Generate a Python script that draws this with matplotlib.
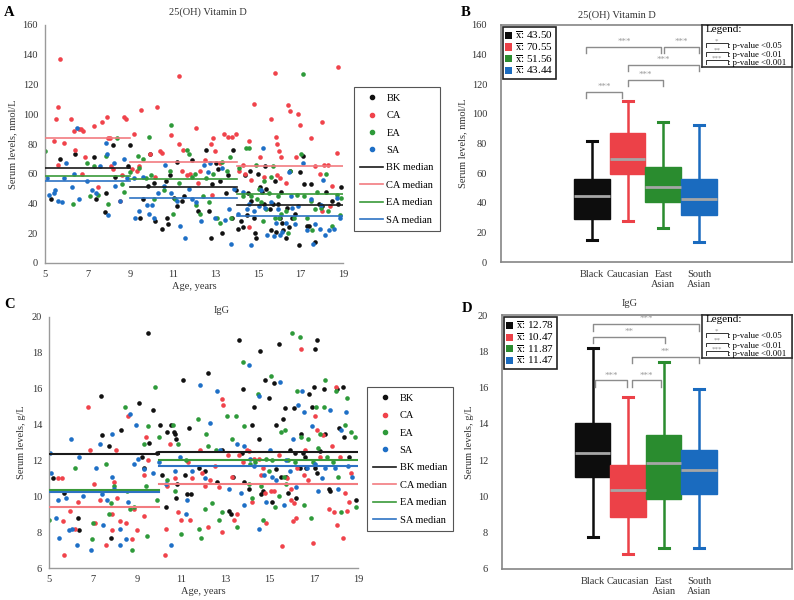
import numpy as np
import matplotlib
matplotlib.use('Agg')
import matplotlib.pyplot as plt
from matplotlib.patches import Patch
from matplotlib.lines import Line2D

plt.rcParams['font.family'] = ['Liberation Serif', 'DejaVu Serif']
plt.rcParams['mathtext.fontset'] = 'stix'

groups = ['BK', 'CA', 'EA', 'SA']
categories = ['Black', 'Caucasian', 'East\nAsian', 'South\nAsian']
dot_colors = ['#111111', '#f0434b', '#2e9a3a', '#1e6fc6']
median_colors = ['#1a1a1a', '#f27c80', '#3a9a3a', '#2d73c4']
box_colors = ['#0d0d0d', '#ec4148', '#2a8c2f', '#1a6bbf']

# ---- 25(OH) Vitamin D scatter (age, nmol/L)
vitd_bk = [(5.3,43),(5.7,70),(6.4,73),(7.3,71),(7.4,43),(7.85,47),(7.8,34),(8.2,79),(8.3,58),(8.9,65),
           (9.0,79),(9.45,30),(9.6,43),(9.85,52),(9.95,73),(10.1,54),(10.15,28),(10.5,23),(10.7,55),(10.8,26),
           (10.75,30),(10.85,59),(11.05,44),(11.2,38),(11.45,42),(11.2,68),(11.55,45),(11.9,69),(12.2,35),(12.55,76),
           (12.8,17),(12.85,53),(13.05,67),(13.15,63),(13.2,55),(13.3,20),(13.5,47),(13.6,59),(13.85,76),(13.8,30),
           (14.05,23),(14.2,28),(14.4,59),(14.5,32),(14.55,47),(14.65,62),(14.7,42),(14.8,30),(14.85,20),(14.9,17),
           (15.0,60),(15.1,51),(15.2,48),(15.3,40),(15.35,65),(15.4,50),(15.6,22),(15.7,40),(15.8,55),(15.85,21),
           (15.95,40),(16.1,48),(16.15,27),(16.2,22),(16.3,17),(16.35,37),(16.5,62),(16.6,30),(16.75,33),(16.95,12),
           (17.0,61),(17.1,72),(17.15,53),(17.3,25),(17.5,53),(17.7,14),(17.85,40),(18.0,38),(18.2,48),(18.5,42),
           (18.75,40),(18.9,51),(16.05,30),(15.55,36),(14.3,24),(17.4,25),(13.95,49),(12.7,35),(16.45,24)]
vitd_ca = [(5.7,137),(5.6,105),(5.5,97),(5.4,82),(5.6,66),(5.9,81),(6.2,97),(6.35,89),(6.4,76),(6.6,90),
           (6.7,90),(6.8,89),(6.9,71),(6.75,60),(7.3,92),(7.5,51),(7.7,95),(7.9,98),(7.95,84),(8.05,84),
           (8.1,65),(8.2,63),(8.6,59),(8.7,98),(8.8,97),(8.5,42),(9.2,87),(9.1,63),(9.5,103),(9.3,62),
           (9.95,73),(10.25,105),(10.4,75),(10.5,74),(10.9,86),(11.3,126),(11.3,80),(11.5,76),(11.45,62),(11.65,59),
           (11.8,60),(12.1,91),(12.2,54),(12.5,69),(12.8,80),(12.9,84),(12.85,46),(13.0,75),(13.4,87),(13.6,85),
           (13.8,85),(13.95,87),(14.1,62),(14.3,66),(14.4,60),(14.6,82),(14.8,107),(14.6,24),(15.1,71),(15.6,97),
           (15.8,128),(15.85,85),(15.9,80),(16.0,75),(16.1,71),(16.05,57),(16.4,106),(16.5,102),(16.8,71),(16.9,100),
           (17.0,93),(17.5,84),(17.7,65),(17.9,60),(18.0,95),(18.1,66),(18.3,66),(18.0,35),(18.5,52),(18.7,74),
           (18.75,132),(18.4,38),(15.3,58),(15.9,59),(16.3,54),(14.7,56),(13.2,67),(12.3,62),(10.15,58),(9.4,65)]
vitd_ea = [(5.0,75),(6.3,40),(6.95,67),(7.1,45),(7.3,65),(7.5,46),(7.85,72),(7.95,40),(8.4,84),(8.6,53),
           (8.7,48),(9.0,61),(9.35,72),(9.4,64),(9.6,70),(9.75,57),(10.0,59),(10.1,43),(9.9,85),(10.6,49),
           (10.9,93),(10.85,62),(11.1,43),(11.3,54),(11.65,76),(11.75,73),(11.9,58),(12.1,39),(12.3,33),(12.55,57),
           (12.7,41),(12.9,60),(13.1,30),(13.2,27),(13.3,68),(13.7,71),(13.75,30),(14.1,64),(14.3,45),(14.45,77),
           (14.6,77),(14.7,45),(14.9,66),(15.05,50),(15.15,41),(15.3,55),(15.4,36),(15.5,47),(15.7,65),(15.8,30),
           (15.95,45),(16.1,33),(16.3,35),(16.5,62),(16.7,30),(16.85,46),(17.1,127),(17.05,73),(17.15,45),(17.3,30),
           (17.5,42),(17.55,22),(17.8,48),(17.95,37),(18.2,60),(18.3,35),(18.5,25),(18.7,46),(18.85,32),(18.9,44),
           (15.6,58),(16.0,30),(14.95,43),(16.4,20),(13.55,62),(12.05,60),(11.0,33),(12.4,45),(15.25,28),(17.7,36)]
vitd_sa = [(5.1,57),(5.2,46),(5.4,47),(5.45,49),(5.6,42),(5.9,57),(5.8,41),(6.0,67),(6.25,51),(6.35,60),
           (6.5,91),(6.6,43),(6.95,55),(7.2,49),(7.4,47),(7.6,65),(7.85,81),(7.9,73),(7.95,32),(8.25,67),
           (8.3,52),(8.5,42),(8.7,70),(8.85,57),(9.2,57),(9.25,30),(9.4,35),(9.6,58),(9.8,39),(9.9,33),
           (10.05,39),(10.1,30),(10.3,47),(10.6,52),(10.65,66),(10.9,47),(11.2,42),(11.35,25),(11.6,17),(11.75,50),
           (11.9,43),(12.1,41),(12.35,28),(12.45,66),(12.65,61),(12.75,67),(13.0,30),(13.3,64),(13.45,29),(13.65,36),
           (13.75,13),(13.9,50),(14.05,33),(14.3,48),(14.5,36),(14.6,40),(14.7,12),(14.8,35),(15.05,38),(15.25,77),
           (15.35,37),(15.45,19),(15.6,41),(15.75,18),(15.85,27),(15.95,36),(16.05,19),(16.15,21),(16.3,27),(16.45,61),
           (16.55,45),(16.75,26),(16.9,38),(17.1,67),(17.3,22),(17.5,43),(17.6,13),(17.7,26),(17.9,23),(18.05,56),
           (18.15,19),(18.35,22),(18.6,23),(18.85,30),(18.7,44),(15.15,49),(16.6,37),(17.95,39)]
vitd_bins = [5, 9, 14, 19]
vitd_med_bk = [63.8, 50.8, 39.2]
vitd_med_ca = [83.7, 67.6, 65.3]
vitd_med_ea = [58.2, 56.4, 46.5]
vitd_med_sa = [55.3, 43.4, 31.8]

# ---- IgG scatter (age, g/L)
igg_bk = [(5.2,11.0),(5.7,10.2),(6.3,8.8),(6.35,8.1),(7.4,13.4),(7.35,15.6),(7.7,12.8),(7.8,7.7),(8.25,13.7),(9.1,15.2),
          (9.2,12.2),(9.5,19.1),(9.55,13.0),(9.7,14.8),(9.3,11.6),(9.9,12.4),(10.05,14.0),(10.1,11.2),(10.3,9.4),(10.35,13.6),
          (10.55,14.0),(10.65,13.6),(10.75,13.2),(10.7,13.5),(10.8,10.7),(10.75,9.9),(11.05,16.5),(11.15,11.2),(11.25,10.1),(11.35,13.8),
          (11.45,10.1),(11.8,11.6),(12.05,11.4),(12.2,16.9),(12.6,10.8),(12.85,12.6),(13.15,9.2),(13.25,9.0),(13.35,11.1),(13.6,18.7),
          (13.8,16.0),(13.85,10.8),(14.05,10.4),(14.2,14.0),(14.3,15.0),(14.5,13.2),(14.55,18.1),(14.6,10.1),(14.7,10.3),(14.8,16.5),
          (14.95,15.5),(15.1,9.7),(15.2,16.3),(15.3,14.0),(15.3,11.5),(15.4,18.5),(15.5,11.1),(15.6,14.3),(15.7,14.9),(15.75,11.1),
          (15.85,10.2),(15.9,12.6),(16.1,14.9),(16.15,12.4),(16.2,9.9),(16.35,11.6),(16.4,13.5),(16.5,12.4),(16.6,12.2),(16.8,15.7),
          (16.9,15.0),(17.0,16.1),(17.05,18.2),(17.15,18.7),(17.15,11.3),(17.3,12.5),(17.45,16.0),(17.5,13.5),(17.7,10.4),(17.75,10.3),
          (18.05,16.0),(18.15,13.8),(18.3,16.1),(18.35,13.3),(18.6,12.2),(18.9,9.8),(17.05,11.6),(16.65,11.6),(13.75,12.4)]
igg_ca = [(5.4,11.0),(5.6,11.0),(5.65,8.6),(5.7,6.7),(5.95,9.2),(6.2,8.2),(6.3,9.7),(6.75,15.0),(6.85,12.6),(7.05,10.7),
          (7.1,8.5),(7.3,9.8),(7.6,7.3),(7.85,8.1),(7.85,9.0),(7.95,10.8),(8.05,12.6),(8.1,9.9),(8.2,8.6),(8.5,8.5),
          (8.6,14.5),(8.75,7.6),(8.85,9.3),(9.0,8.1),(9.3,11.2),(9.4,13.3),(9.5,12.0),(9.3,8.9),(10.25,6.7),(10.3,8.2),
          (10.35,10.6),(10.5,12.9),(10.7,11.0),(10.85,9.1),(11.0,8.7),(11.3,11.9),(11.4,8.7),(11.5,11.0),(11.85,12.6),(11.95,11.3),
          (12.2,8.3),(12.3,10.9),(12.5,11.7),(12.7,10.5),(12.85,15.4),(12.9,15.1),(12.85,8.0),(13.1,12.3),(13.3,11.1),(13.4,8.7),
          (13.5,9.0),(13.6,12.3),(13.8,11.9),(13.95,12.6),(14.05,12.5),(14.2,9.7),(14.3,12.1),(14.5,12.1),(14.6,11.2),(14.7,11.6),
          (14.8,10.2),(14.85,8.5),(15.05,10.3),(15.2,10.3),(15.4,12.3),(15.55,7.2),(15.8,11.0),(15.95,9.8),(16.05,8.6),(16.1,9.6),
          (16.2,8.8),(16.25,11.6),(16.4,18.2),(16.55,11.2),(16.75,10.9),(16.95,7.4),(17.05,14.5),(17.15,13.7),(17.3,12.2),(17.4,13.4),
          (17.7,9.3),(17.8,12.8),(17.9,9.1),(18.0,16.1),(18.05,8.4),(18.2,12.2),(18.3,7.7),(18.4,10.2),(18.5,9.2),(18.6,9.7),
          (18.7,11.3),(16.6,12.6),(15.95,10.4),(12.05,10.6)]
igg_ea = [(5.0,8.7),(6.2,11.6),(6.95,7.6),(7.0,8.5),(7.6,11.8),(7.7,9.0),(7.8,9.6),(7.95,10.6),(8.45,15.0),(8.55,10.3),
          (8.65,9.3),(8.75,7.0),(8.85,9.4),(9.3,12.9),(9.4,10.6),(9.45,7.8),(9.5,13.9),(9.8,16.1),(10.0,13.3),(9.9,9.8),
          (10.35,10.9),(10.6,14.0),(10.7,10.3),(10.85,12.9),(11.0,7.9),(11.75,14.3),(11.8,8.2),(11.9,7.7),(12.05,9.3),(12.1,13.5),
          (12.2,12.8),(12.4,9.6),(12.7,8.7),(12.85,9.1),(13.05,14.5),(13.3,13.2),(13.45,14.5),(13.5,8.3),(13.8,17.5),(13.85,13.9),
          (14.05,10.7),(14.2,9.9),(14.35,11.9),(14.45,15.7),(14.6,10.6),(14.7,8.7),(14.85,12.1),(14.95,11.4),(15.05,16.7),(15.1,12.0),
          (15.25,9.4),(15.4,10.0),(15.5,13.6),(15.65,11.1),(15.7,13.7),(15.85,12.0),(16.0,19.1),(16.15,11.9),(16.25,15.9),(16.4,13.3),
          (16.35,18.9),(16.55,9.5),(16.75,13.2),(16.85,8.8),(16.95,11.9),(17.1,15.0),(17.2,12.7),(17.3,13.5),(17.45,15.0),(17.5,16.5),
          (17.6,12.2),(17.85,11.9),(18.0,15.9),(18.1,11.1),(18.25,9.1),(18.4,14.0),(18.5,15.5),(18.7,13.6),(18.85,13.3),(18.9,9.4),
          (15.75,10.7),(12.55,12.6),(11.2,12.0),(14.1,11.8)]
igg_sa = [(5.05,12.4),(5.1,11.3),(5.3,8.8),(5.4,9.8),(5.45,7.7),(5.75,9.9),(5.9,8.1),(6.0,13.2),(6.05,8.2),(6.25,7.3),
          (6.35,12.2),(6.55,10.0),(6.9,7.0),(7.15,11.6),(7.3,12.9),(7.4,10.1),(7.45,8.4),(7.65,9.8),(7.85,13.5),(7.85,11.1),
          (7.95,10.4),(8.2,8.2),(8.2,7.3),(8.5,7.6),(8.6,9.7),(8.65,14.6),(8.85,11.8),(8.95,14.0),(9.05,12.1),(9.3,11.5),
          (9.7,11.3),(10.0,11.9),(10.3,10.7),(10.55,7.3),(10.7,11.4),(10.95,12.2),(11.2,9.0),(11.25,9.8),(11.5,11.4),(11.85,16.2),
          (12.3,14.1),(12.6,15.9),(12.75,12.6),(13.15,10.4),(13.5,12.9),(13.7,10.2),(13.85,12.8),(14.05,17.3),(14.1,12.1),(14.3,11.7),
          (14.5,15.6),(14.5,8.2),(14.75,11.2),(14.85,9.7),(15.0,12.6),(15.1,11.1),(15.3,10.9),(15.45,16.4),(15.65,9.5),(15.75,12.0),
          (15.9,11.4),(16.05,13.2),(16.3,15.1),(16.45,15.9),(16.55,14.7),(16.7,11.6),(16.9,13.9),(17.05,11.8),(17.2,10.3),(17.35,11.0),
          (17.5,11.6),(17.75,14.8),(17.95,11.6),(18.1,10.4),(18.25,13.7),(18.45,14.7),(18.55,11.7),(18.75,11.1),(16.2,10.5),(13.85,9.5),
          (12.05,11.0)]
igg_bins = [5, 10, 19]
igg_med_bk = [12.36, 12.45]
igg_med_ca = [9.38, 10.69]
igg_med_ea = [10.33, 12.02]
igg_med_sa = [10.26, 11.67]

# ---- box plot summaries
vitd_whislo = [14.6, 27.7, 23.2, 13.7]
vitd_q1 = [28.8, 59.7, 40.8, 31.5]
vitd_med = [44.8, 69.2, 50.9, 42.8]
vitd_q3 = [56.3, 87.0, 64.0, 56.3]
vitd_whishi = [81.4, 108.8, 94.4, 92.2]
vitd_means = [43.50, 70.55, 51.56, 43.44]
# (from, to, height, label)
vitd_sig = [(0.84, 1.85, 115, '***'), (2.0, 3.0, 122.8, '***'), (2.0, 4.0, 133, '***'),
            (0.84, 2.95, 145, '***'), (3.02, 4.0, 145, '***')]

igg_whislo = [7.76, 6.83, 7.16, 7.16]
igg_q1 = [11.08, 8.84, 9.85, 10.11]
igg_med = [12.42, 10.37, 11.87, 11.47]
igg_q3 = [14.07, 11.71, 13.41, 12.55]
igg_whishi = [18.2, 15.47, 17.43, 15.9]
igg_means = [12.78, 10.47, 11.87, 11.47]
igg_sig = [(1.0, 4.0, 19.49, '***'), (1.0, 3.05, 18.81, '**'), (2.1, 4.0, 17.71, '**'),
           (1.07, 1.97, 16.39, '***'), (2.1, 2.93, 16.39, '***')]

W, H = 794, 600
fig = plt.figure(figsize=(W / 100, H / 100), dpi=100)


def px_axes(x0, y0, x1, y1):
    return fig.add_axes([x0 / W, 1 - y1 / H, (x1 - x0) / W, (y1 - y0) / H])


def scatter_panel(ax, series, medians, bins, ylim, ystep, ylabel, lw):
    for pts, c in zip(series, dot_colors):
        a = np.array(pts)
        ax.scatter(a[:, 0], a[:, 1], s=11, color=c, linewidths=0, zorder=2)
    for meds, c in zip(medians, median_colors):
        for k, m in enumerate(meds):
            ax.plot([bins[k], bins[k + 1]], [m, m], color=c, lw=lw, zorder=3)
    ax.set_xlim(5, 19)
    ax.set_ylim(*ylim)
    ax.set_xticks(np.arange(5, 20, 2))
    ax.set_yticks(np.arange(ylim[0], ylim[1] + 0.1, ystep))
    for s in ['top', 'right']:
        ax.spines[s].set_visible(False)
    for s in ['left', 'bottom']:
        ax.spines[s].set_color('#9a9a9a')
        ax.spines[s].set_linewidth(1.0)
    ax.tick_params(length=0, labelsize=7.5, pad=5, colors='#333333')
    ax.set_xlabel('Age, years', fontsize=7.5, labelpad=2, color='#333333')
    ax.set_ylabel(ylabel, fontsize=7.5, labelpad=4, color='#333333')


def scatter_legend(x0, y0):
    handles = [Line2D([], [], marker='o', ls='', color=c, markersize=3) for c in dot_colors]
    handles += [Line2D([], [], color=c, lw=1.2) for c in median_colors]
    labels = groups + [g + ' median' for g in groups]
    leg = fig.legend(handles, labels, loc='upper left', bbox_to_anchor=(x0 / W, 1 - y0 / H),
                     fontsize=7.5, labelspacing=0.78, handlelength=2.2, handletextpad=0.3,
                     borderpad=0.6, fancybox=False, edgecolor='#555555', framealpha=1)
    leg.get_frame().set_linewidth(0.8)


def box_panel(ax, whislo, q1, med, q3, whishi, means, sig, ylim, ystep, ylabel):
    stats = []
    for i in range(4):
        stats.append(dict(whislo=whislo[i], q1=q1[i], med=med[i], q3=q3[i], whishi=whishi[i], fliers=[]))
    bp = ax.bxp(stats, positions=[1, 2, 3, 4], widths=1.0, patch_artist=True, showfliers=False,
                capwidths=0.28)
    for i, c in enumerate(box_colors):
        bp['boxes'][i].set_facecolor(c)
        bp['boxes'][i].set_edgecolor(c)
        bp['medians'][i].set_color('#a6a6a6')
        bp['medians'][i].set_linewidth(2)
        for w in bp['whiskers'][2 * i:2 * i + 2]:
            w.set_color(c)
            w.set_linewidth(1.8)
        for cp in bp['caps'][2 * i:2 * i + 2]:
            cp.set_color(c)
            cp.set_linewidth(2.2)
    span = ylim[1] - ylim[0]
    for a, b, y, lab in sig:
        leg_h = span * 0.026
        ax.plot([a, a, b, b], [y - leg_h, y, y, y - leg_h], color='#8c8c8c', lw=1.0)
        ax.text((a + b) / 2, y + span * 0.004, lab, ha='center', va='bottom', fontsize=6.5, color='#9a9a9a')
    ax.set_xlim(-1.55, 6.61)
    ax.set_ylim(*ylim)
    ax.set_yticks(np.arange(ylim[0], ylim[1] + 0.1, ystep))
    ax.set_xticks([1, 2, 3, 4])
    ax.set_xticklabels(categories, fontsize=7.5, linespacing=1.1)
    for s in ax.spines.values():
        s.set_color('#858585')
        s.set_linewidth(1.2)
    ax.tick_params(length=0, labelsize=7.5, colors='#333333')
    ax.tick_params(axis='y', pad=10)
    ax.tick_params(axis='x', pad=6)
    ax.set_ylabel(ylabel, fontsize=7.5, labelpad=3, color='#333333')
    handles = [Patch(facecolor=c, edgecolor='none') for c in box_colors]
    labels = [r'$\overline{\mathrm{x}}$: %.2f' % m for m in means]
    leg = ax.legend(handles, labels, loc='upper left', fontsize=8, handlelength=0.6, handleheight=0.6,
                    handletextpad=0.3, labelspacing=0.0, borderpad=0.2, borderaxespad=0.2,
                    fancybox=False, edgecolor='#222222', framealpha=1)
    leg.get_frame().set_linewidth(1.2)


def pvalue_key(x0, y0, x1, y1):
    k = px_axes(x0, y0, x1, y1)
    k.set_xlim(0, 1)
    k.set_ylim(0, 1)
    k.set_xticks([])
    k.set_yticks([])
    for s in k.spines.values():
        s.set_color('#333333')
        s.set_linewidth(1.2)
    k.text(0.04, 0.99, 'Legend:', ha='left', va='top', fontsize=8)
    rows = [(0.52, '*', ': p-value <0.05'), (0.31, '**', ': p-value <0.01'), (0.11, '***', ': p-value <0.001')]
    for y, st, txt in rows:
        k.plot([0.04, 0.04, 0.29, 0.29], [y - 0.04, y + 0.05, y + 0.05, y - 0.04], color='#333333', lw=0.7)
        k.text(0.165, y + 0.04, st, ha='center', va='bottom', fontsize=5, color='#8c8c8c')
        k.text(0.29, y - 0.02, txt, ha='left', va='center', fontsize=6.3)


# ---- A
axA = px_axes(45, 25, 343, 263)
scatter_panel(axA, [vitd_bk, vitd_ca, vitd_ea, vitd_sa],
              [vitd_med_bk, vitd_med_ca, vitd_med_ea, vitd_med_sa], vitd_bins,
              (0, 160), 20, 'Serum levels, nmol/L', 1.2)
scatter_legend(349, 82)

# ---- B
axB = px_axes(501, 25, 792, 262)
box_panel(axB, vitd_whislo, vitd_q1, vitd_med, vitd_q3, vitd_whishi, vitd_means, vitd_sig,
          (0, 160), 20, 'Serum levels, nmol/L')
pvalue_key(702, 25, 792, 67)

# ---- C
axC = px_axes(49, 317, 358, 568)
scatter_panel(axC, [igg_bk, igg_ca, igg_ea, igg_sa],
              [igg_med_bk, igg_med_ca, igg_med_ea, igg_med_sa], igg_bins,
              (6, 20), 2, 'Serum levels, g/L', 1.5)
scatter_legend(362, 382)

# ---- D
axD = px_axes(502, 315, 792, 569)
box_panel(axD, igg_whislo, igg_q1, igg_med, igg_q3, igg_whishi, igg_means, igg_sig,
          (6, 20), 2, 'Serum levels, g/L')
pvalue_key(702, 315, 792, 358)

# titles and panel letters
for x, y, t in [(208, 12, '25(OH) Vitamin D'), (617, 15, '25(OH) Vitamin D'), (222, 310, 'IgG'), (630, 304, 'IgG')]:
    fig.text(x / W, 1 - y / H, t, ha='center', va='center', fontsize=7.5, color='#333333')
for x, y, t in [(9, 12, 'A'), (466, 12, 'B'), (10, 304, 'C'), (467, 309, 'D')]:
    fig.text(x / W, 1 - y / H, t, ha='center', va='center', fontsize=10.5, fontweight='bold')

fig.savefig('out.png', dpi=100)
